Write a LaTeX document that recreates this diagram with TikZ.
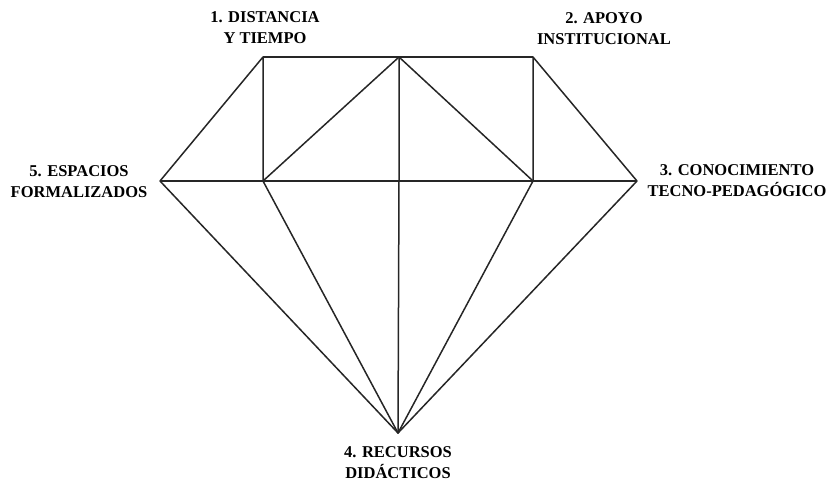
\documentclass[tikz,border=0pt]{standalone}
\usepackage{fontspec}
\setmainfont{Liberation Serif}
\begin{document}
\begin{tikzpicture}[x=1pt,y=-1pt,
  edge/.style={line width=1.5pt,line join=round,black!85},
  lbl/.style={font=\bfseries\fontsize{16.5}{21}\selectfont,align=center,inner sep=0pt,text=black}]
\useasboundingbox (0,0) rectangle (831,482);
\coordinate (TL) at (263,57);
\coordinate (TM) at (399,57);
\coordinate (TR) at (533,57);
\coordinate (L) at (160,181);
\coordinate (ML) at (263,181);
\coordinate (MM) at (399,181);
\coordinate (MR) at (533,181);
\coordinate (R) at (637,181);
\coordinate (B) at (398,433);
\draw[edge] (TL) -- (TR);
\draw[edge] (L) -- (R);
\draw[edge] (L) -- (TL) -- (ML);
\draw[edge] (R) -- (TR) -- (MR);
\draw[edge] (TM) -- (MM) -- (B);
\draw[edge] (ML) -- (TM) -- (MR);
\draw[edge] (L) -- (B) -- (R);
\draw[edge] (ML) -- (B) -- (MR);
\node[lbl] (n1) at (265,28) {1. DISTANCIA\\Y TIEMPO};
\node[lbl] (n2) at (604,29) {2. APOYO\\INSTITUCIONAL};
\node[lbl] (n5) at (79,182) {5. ESPACIOS\\FORMALIZADOS};
\node[lbl] (n3) at (737,181) {3. CONOCIMIENTO\\TECNO-PEDAGÓGICO};
\node[lbl] (n4) at (398,463) {4. RECURSOS\\DIDÁCTICOS};
\end{tikzpicture}
\end{document}
